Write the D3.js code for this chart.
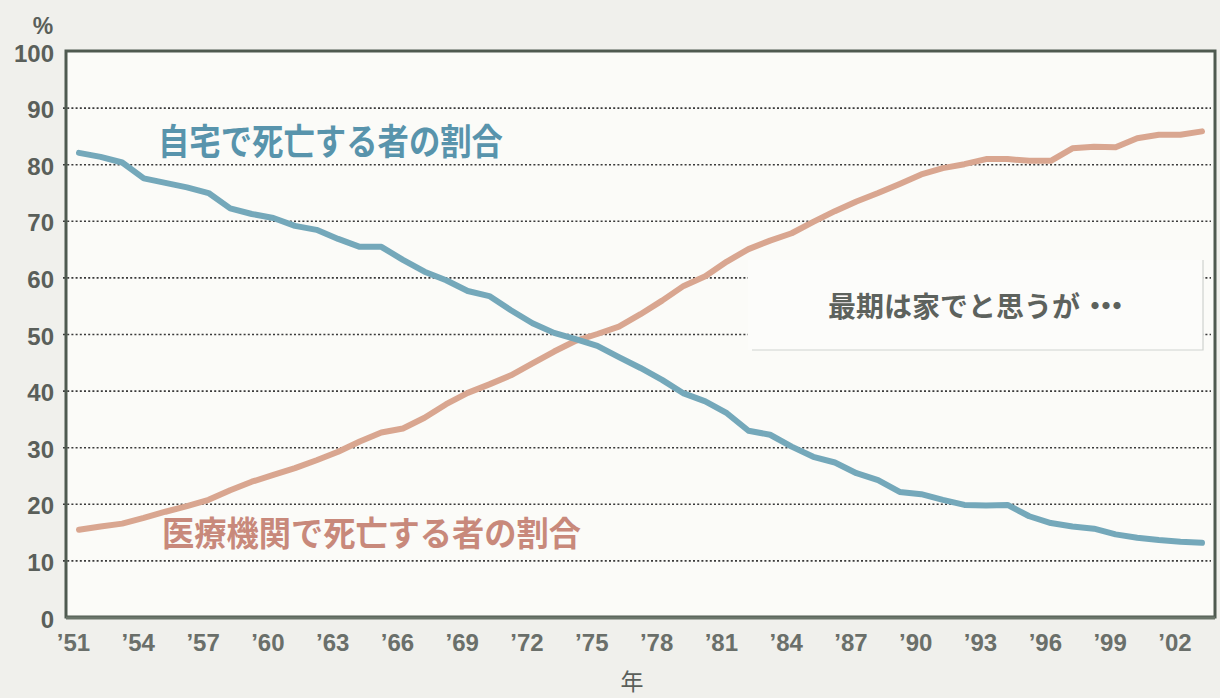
<!DOCTYPE html>
<html>
<head>
<meta charset="utf-8">
<script src="https://cdn.jsdelivr.net/npm/d3@7/dist/d3.min.js"></script>
<style>
  html, body { margin: 0; padding: 0; background: #f0f0ec; }
  svg { display: block; }
</style>
</head>
<body>
<svg id="chart" width="1220" height="698"></svg>
<script>
// ---- data ----
const years = d3.range(1951, 2004);
const homeShare = [82.0, 81.3, 80.3, 77.5, 76.7, 75.9, 74.9, 72.2, 71.2, 70.5,
  69.1, 68.4, 66.8, 65.4, 65.4, 63.1, 61.0, 59.5, 57.6, 56.7,
  54.2, 51.9, 50.2, 49.1, 47.9, 45.9, 44.0, 41.9, 39.5, 38.1,
  36.0, 32.9, 32.2, 30.1, 28.3, 27.3, 25.4, 24.2, 22.1, 21.7,
  20.7, 19.8, 19.7, 19.8, 17.8, 16.6, 16.0, 15.6, 14.6, 14.0,
  13.6, 13.3, 13.1];
const hospitalShare = [15.4, 16.0, 16.5, 17.5, 18.6, 19.6, 20.7, 22.4, 23.9, 25.1,
  26.3, 27.7, 29.2, 31.0, 32.6, 33.3, 35.2, 37.6, 39.6, 41.1,
  42.7, 44.8, 46.9, 48.8, 50.0, 51.3, 53.5, 55.9, 58.5, 60.2,
  62.8, 65.0, 66.5, 67.8, 69.8, 71.7, 73.4, 74.9, 76.5, 78.2,
  79.3, 80.0, 80.9, 80.9, 80.6, 80.6, 82.8, 83.1, 83.0, 84.6,
  85.2, 85.2, 85.8];
const yTicks = [0, 10, 20, 30, 40, 50, 60, 70, 80, 90, 100];
const xTickYears = [1951, 1954, 1957, 1960, 1963, 1966, 1969, 1972, 1975, 1978,
  1981, 1984, 1987, 1990, 1993, 1996, 1999, 2002];
const homeLabel = "自宅で死亡する者の割合";
const hospitalLabel = "医療機関で死亡する者の割合";
const noteMain = "最期は家でと思うが";
const noteDots = "・・・";
const yUnit = "%";
const xUnit = "年";

// ---- layout ----
const svg = d3.select("#chart");
const frame = { left: 66, right: 1215, top: 51, bottom: 617 };
const x = d3.scaleLinear().domain([1951, 2003]).range([79, 1202]);
const y = d3.scaleLinear().domain([0, 100]).range([frame.bottom, frame.top]);

const latin = "'Liberation Sans', Arial, sans-serif";
const cjk = "'Noto Sans CJK JP', 'Noto Sans CJK SC', sans-serif";

// plot background
svg.append("rect")
  .attr("x", frame.left).attr("y", frame.top)
  .attr("width", frame.right - frame.left).attr("height", frame.bottom - frame.top)
  .attr("fill", "#fbfbf8");

// gridlines
const grid = svg.append("g")
  .attr("transform", `translate(${frame.left},0)`)
  .call(d3.axisLeft(y).tickValues(yTicks.filter(d => d > 0 && d < 100))
    .tickSize(-(frame.right - frame.left)).tickFormat(""));
grid.select(".domain").remove();
grid.selectAll(".tick line")
  .attr("stroke", "#3a3a3a")
  .attr("stroke-width", 1.6)
  .attr("stroke-dasharray", "2,2.2")
  .attr("x1", -3).attr("x2", frame.right - frame.left - 4);

// annotation box (covers gridlines)
const box = { x0: 748, x1: 1203, y0: 260, y1: 350 };
svg.append("rect")
  .attr("x", box.x0).attr("y", box.y0)
  .attr("width", box.x1 - box.x0).attr("height", box.y1 - box.y0)
  .attr("fill", "#fcfcfa");
svg.append("path")
  .attr("d", `M${box.x0 + 4},${box.y1} H${box.x1} V${box.y0}`)
  .attr("fill", "none").attr("stroke", "#cfd3cf").attr("stroke-width", 1.2);
const note = svg.append("text")
  .attr("x", 828).attr("y", 317)
  .attr("font-family", cjk).attr("font-weight", "bold")
  .attr("font-size", 28)
  .attr("fill", "#5d625d");
note.append("tspan").text(noteMain);
note.append("tspan").attr("letter-spacing", "-17").attr("dx", 1).text(noteDots);

// lines
const line = vals => d3.line()
  .x((d, i) => x(years[i]))
  .y(d => y(d))
  .curve(d3.curveLinear)(vals);

svg.append("path")
  .attr("d", line(hospitalShare))
  .attr("fill", "none").attr("stroke", "#d9a690")
  .attr("stroke-width", 6).attr("stroke-linejoin", "round").attr("stroke-linecap", "round");
svg.append("path")
  .attr("d", line(homeShare))
  .attr("fill", "none").attr("stroke", "#74a8ba")
  .attr("stroke-width", 6).attr("stroke-linejoin", "round").attr("stroke-linecap", "round");

// series labels
svg.append("text")
  .attr("x", 158).attr("y", 155)
  .attr("font-family", cjk).attr("font-weight", "bold").attr("font-size", 36)
  .attr("textLength", 345).attr("lengthAdjust", "spacingAndGlyphs")
  .attr("fill", "#5894ac")
  .text(homeLabel);
svg.append("text")
  .attr("x", 162).attr("y", 546)
  .attr("font-family", cjk).attr("font-weight", "bold").attr("font-size", 34)
  .attr("textLength", 419).attr("lengthAdjust", "spacingAndGlyphs")
  .attr("fill", "#c8897b")
  .text(hospitalLabel);

// frame
svg.append("rect")
  .attr("x", frame.left).attr("y", frame.top)
  .attr("width", frame.right - frame.left).attr("height", frame.bottom - frame.top)
  .attr("fill", "none").attr("stroke", "#4f5a50").attr("stroke-width", 3);
svg.append("line")
  .attr("x1", frame.left).attr("x2", frame.right)
  .attr("y1", frame.bottom + 1).attr("y2", frame.bottom + 1)
  .attr("stroke", "#6a756a").attr("stroke-width", 3);

// y axis labels
const yAxis = svg.append("g")
  .attr("transform", `translate(${frame.left - 12},0)`)
  .call(d3.axisLeft(y).tickValues(yTicks).tickSize(0).tickPadding(0));
yAxis.select(".domain").remove();
yAxis.selectAll("text")
  .attr("font-family", latin).attr("font-weight", "bold").attr("font-size", 24)
  .attr("fill", "#5a5f5a").attr("dy", "0.42em");

svg.append("text")
  .attr("x", 43).attr("y", 34)
  .attr("text-anchor", "middle")
  .attr("font-family", latin).attr("font-weight", "bold").attr("font-size", 23)
  .attr("fill", "#5a5f5a")
  .text(yUnit);

// x axis labels
const xAxis = svg.append("g")
  .attr("transform", `translate(-6,${frame.bottom + 29})`)
  .call(d3.axisBottom(x).tickValues(xTickYears).tickSize(0).tickPadding(0)
    .tickFormat(d => "’" + String(d).slice(2)));
xAxis.select(".domain").remove();
xAxis.selectAll("text")
  .attr("font-family", latin).attr("font-weight", "bold").attr("font-size", 24)
  .attr("fill", "#6a6f6a").attr("dy", "0.2em");

svg.append("text")
  .attr("x", 632).attr("y", 690)
  .attr("text-anchor", "middle")
  .attr("font-family", cjk).attr("font-size", 23)
  .attr("fill", "#5a5f5a")
  .text(xUnit);
</script>
</body>
</html>
